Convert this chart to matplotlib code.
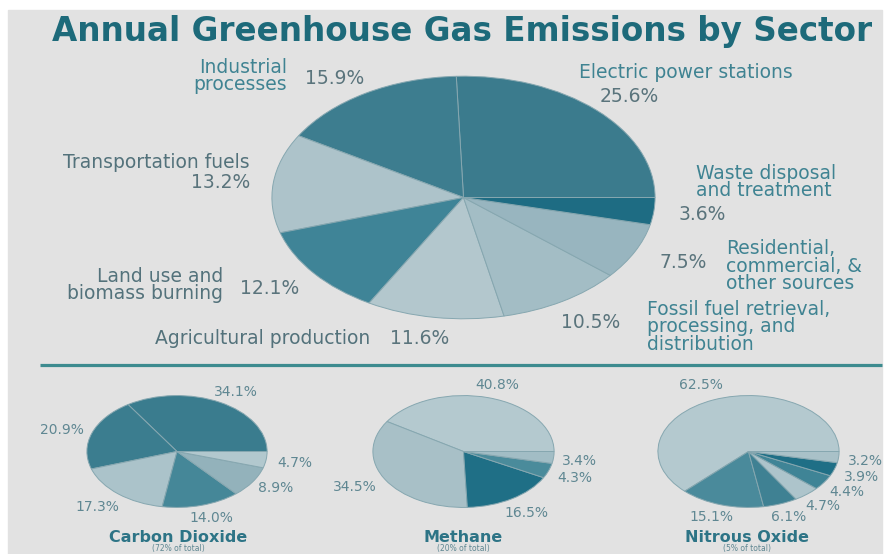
import matplotlib.pyplot as plt

# main pie: shares by sector (percent), counter-clockwise from 3 o'clock
sectors = ['Electric power stations', 'Industrial\nprocesses', 'Transportation fuels',
           'Land use and\nbiomass burning', 'Agricultural production',
           'Fossil fuel retrieval,\nprocessing, and\ndistribution',
           'Residential,\ncommercial, &\nother sources', 'Waste disposal\nand treatment']
sector_pct = [25.6, 15.9, 13.2, 12.1, 11.6, 10.5, 7.5, 3.6]

# small pies, one per gas
gases = ['Carbon Dioxide', 'Methane', 'Nitrous Oxide']
gas_share = ['(72% of total)', '(20% of total)', '(5% of total)']
co2_pct = [34.1, 20.9, 17.3, 14.0, 8.9, 4.7]
ch4_pct = [40.8, 34.5, 16.5, 4.3, 3.4]
n2o_pct = [62.5, 15.1, 6.1, 4.7, 4.4, 3.9, 3.2]

title = 'Annual Greenhouse Gas Emissions by Sector'

# colours
bg = '#e2e2e2'
title_col = '#1d6a7a'
sector_cols = ['#3b7b8d', '#3d7d8f', '#adc3ca', '#3f8497', '#b3c7cd', '#a3bdc5', '#98b5bf', '#1e6c83']
co2_cols = ['#3a7c8e', '#3b7d8f', '#abc3ca', '#458798', '#93b2bb', '#b2c8ce']
ch4_cols = ['#b4c9cf', '#a8c0c7', '#1f6f86', '#4a8b9b', '#a2bdc5']
n2o_cols = ['#b4c9cf', '#4a8a9b', '#3f8193', '#adc4cb', '#3f8496', '#1f6f86', '#a9c1c8']

W, H = 888, 554
fig = plt.figure(figsize=(W / 100, H / 100), dpi=100)
fig.patch.set_facecolor('white')

def px_axes(x0, y0, x1, y1):
    # axes from pixel box (top-left origin)
    return fig.add_axes([x0 / W, 1 - y1 / H, (x1 - x0) / W, (y1 - y0) / H])

# background panel
over = fig.add_axes([0, 0, 1, 1], zorder=0)
over.set_xlim(0, W)
over.set_ylim(H, 0)
over.axis('off')
over.add_patch(plt.Rectangle((8, 10), 874, H - 10, color=bg, zorder=0))

def draw_pie(box, vals, cols):
    ax = px_axes(*box)
    ax.set_zorder(1)
    ax.pie(vals, colors=cols, startangle=0, counterclock=True,
           wedgeprops=dict(edgecolor='#86a7b0', linewidth=0.7))
    ax.set_aspect('auto')
    ax.set_xlim(-1.01, 1.01)
    ax.set_ylim(-1.01, 1.01)
    ax.axis('off')
    return ax

draw_pie((270, 75, 657, 320), sector_pct, sector_cols)
draw_pie((86, 395, 268, 508), co2_pct, co2_cols)
draw_pie((372, 395, 555, 508), ch4_pct, ch4_cols)
draw_pie((657, 395, 840, 508), n2o_pct, n2o_cols)

txt = fig.add_axes([0, 0, 1, 1], zorder=5)
txt.set_xlim(0, W)
txt.set_ylim(H, 0)
txt.axis('off')
txt.patch.set_alpha(0)

txt.text(462, 31, title, ha='center', va='center', fontsize=23.5,
         fontweight='bold', color=title_col)
txt.plot([40, 882], [365, 365], color='#3d8b8f', lw=2.3, solid_capstyle='butt')

# sector labels: name (x, y, ha, colour) and percent (x, y, ha)
teal_txt = '#3f8392'
gray_txt = '#53727b'
pct_txt = '#5a747c'
name_pos = [(579, 73, 'left', teal_txt), (287, 76, 'right', teal_txt),
            (250, 163, 'right', gray_txt), (223, 285, 'right', gray_txt),
            (370, 338, 'right', gray_txt), (647, 327, 'left', teal_txt),
            (726, 266, 'left', teal_txt), (696, 182, 'left', teal_txt)]
pct_pos = [(600, 96, 'left'), (305, 78, 'left'), (250, 183, 'right'),
           (240, 288, 'left'), (390, 339, 'left'), (620, 322, 'right'),
           (707, 262, 'right'), (679, 215, 'left')]
for name, v, (nx, ny, nha, ncol), (px_, py_, pha) in zip(sectors, sector_pct, name_pos, pct_pos):
    txt.text(nx, ny, name, ha=nha, va='center', fontsize=13.5, color=ncol,
             linespacing=0.9, multialignment=nha)
    txt.text(px_, py_, f'{v}%', ha=pha, va='center', fontsize=13.5, color=pct_txt)

# small pie labels
small_col = '#5f8792'
gas_pct_pos = [
    [(236, 392, 'center'), (62, 430, 'center'), (97, 507, 'center'),
     (211, 518, 'center'), (258, 488, 'left'), (277, 463, 'left')],
    [(497, 385, 'center'), (355, 487, 'center'), (526, 513, 'center'),
     (557, 478, 'left'), (562, 461, 'left')],
    [(701, 385, 'center'), (711, 517, 'center'), (789, 517, 'center'),
     (805, 506, 'left'), (829, 492, 'left'), (844, 477, 'left'), (848, 461, 'left')],
]
gas_centers = [178, 463, 747]
for vals, poss in zip([co2_pct, ch4_pct, n2o_pct], gas_pct_pos):
    for v, (x, y, ha) in zip(vals, poss):
        txt.text(x, y, f'{v}%', ha=ha, va='center', fontsize=10, color=small_col)
for g, s, cx in zip(gases, gas_share, gas_centers):
    txt.text(cx, 537, g, ha='center', va='center', fontsize=11.5, fontweight='bold', color='#2d7486')
    txt.text(cx, 548, s, ha='center', va='center', fontsize=5.5, color='#5f8792')

fig.savefig('out.png', dpi=100, facecolor=fig.get_facecolor())
